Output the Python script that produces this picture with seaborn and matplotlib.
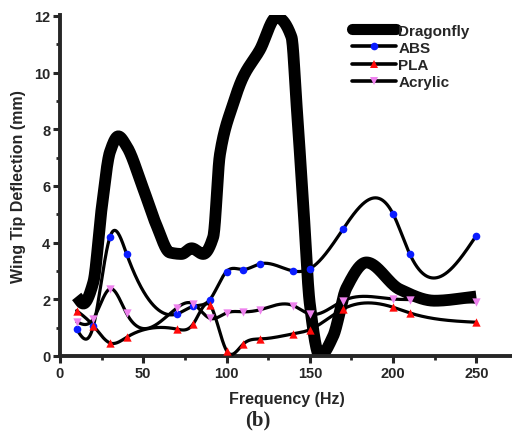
import numpy as np
import pandas as pd
import matplotlib
matplotlib.use("Agg")
import matplotlib.pyplot as plt
from matplotlib.lines import Line2D
from matplotlib.ticker import MultipleLocator
import seaborn as sns

# ---- data ----
freq = [10, 20, 30, 40, 70, 80, 90, 100, 110, 120, 140, 150, 170, 200, 210, 250]
abs_defl = [0.95, 1.05, 4.2, 3.6, 1.48, 1.75, 1.99, 2.98, 3.05, 3.25, 3.0, 3.08, 4.48, 5.01, 3.6, 4.25]
pla_defl = [1.6, 1.07, 0.46, 0.66, 0.95, 1.13, 1.8, 0.19, 0.42, 0.6, 0.78, 0.93, 1.66, 1.72, 1.52, 1.19]
acr_defl = [1.21, 1.31, 2.37, 1.5, 1.69, 1.84, 1.33, 1.52, 1.56, 1.63, 1.78, 1.48, 1.95, 2.01, 1.99, 1.9]

dragon_freq = [10, 14, 20, 25, 30, 35, 40, 50, 58, 66, 73, 79, 86, 92, 96, 104, 110, 120,
               130, 139, 142, 146, 150, 156, 164, 172, 184, 204, 225, 250]
dragon_defl = [2.1, 1.85, 2.6, 5.2, 7.2, 7.75, 7.4, 5.9, 4.6, 3.65, 3.6, 3.8, 3.6, 4.2, 7.1, 8.9, 9.85, 10.8,
               11.95, 11.25, 8.9, 5.4, 1.84, 0.0, 0.7, 2.4, 3.3, 2.35, 1.95, 2.1]

x_ticks = [0, 50, 100, 150, 200, 250]
y_ticks = [0, 2, 4, 6, 8, 10, 12]
series_names = ["Dragonfly", "ABS", "PLA", "Acrylic"]


def natural_spline(x, y, xs):
    x = np.asarray(x, float); y = np.asarray(y, float)
    n = len(x); h = np.diff(x)
    A = np.zeros((n, n)); b = np.zeros(n)
    A[0, 0] = 1; A[-1, -1] = 1
    for i in range(1, n - 1):
        A[i, i - 1] = h[i - 1]; A[i, i] = 2 * (h[i - 1] + h[i]); A[i, i + 1] = h[i]
        b[i] = 3 * ((y[i + 1] - y[i]) / h[i] - (y[i] - y[i - 1]) / h[i - 1])
    c = np.linalg.solve(A, b)
    idx = np.clip(np.searchsorted(x, xs) - 1, 0, n - 2)
    dx = xs - x[idx]
    bb = (y[idx + 1] - y[idx]) / h[idx] - h[idx] * (2 * c[idx] + c[idx + 1]) / 3
    d = (c[idx + 1] - c[idx]) / (3 * h[idx])
    return y[idx] + bb * dx + c[idx] * dx ** 2 + d * dx ** 3


def pchip(x, y, xs):
    x = np.asarray(x, float); y = np.asarray(y, float)
    n = len(x); h = np.diff(x); delta = np.diff(y) / h
    d = np.zeros(n)
    for k in range(1, n - 1):
        if delta[k - 1] * delta[k] > 0:
            w1 = 2 * h[k] + h[k - 1]; w2 = h[k] + 2 * h[k - 1]
            d[k] = (w1 + w2) / (w1 / delta[k - 1] + w2 / delta[k])
    d[0] = delta[0]; d[-1] = delta[-1]
    idx = np.clip(np.searchsorted(x, xs) - 1, 0, n - 2)
    t = (xs - x[idx]) / h[idx]
    h00 = 2 * t ** 3 - 3 * t ** 2 + 1; h10 = t ** 3 - 2 * t ** 2 + t
    h01 = -2 * t ** 3 + 3 * t ** 2; h11 = t ** 3 - t ** 2
    return h00 * y[idx] + h10 * h[idx] * d[idx] + h01 * y[idx + 1] + h11 * h[idx] * d[idx + 1]


sns.set_style("ticks")
plt.rcParams['font.family'] = ['Liberation Sans', 'DejaVu Sans']
plt.rcParams['font.weight'] = 'bold'

fig = plt.figure(figsize=(5.12, 4.35), dpi=100)
ax = fig.add_axes([60 / 512, 78 / 435, 453 / 512, 341 / 435])

xs = np.linspace(10, 250, 1200)
dfd = pd.DataFrame({"x": xs, "y": pchip(dragon_freq, dragon_defl, xs)})
sns.lineplot(data=dfd, x="x", y="y", ax=ax, color="black", lw=8.5, sort=False,
             estimator=None, solid_capstyle="butt", solid_joinstyle="round", zorder=2)

styles = {"ABS": ("#0a1cff", "o", abs_defl, 5.5),
          "PLA": ("#ff0a0a", "^", pla_defl, 6),
          "Acrylic": ("#ee82ee", "v", acr_defl, 6)}
for name in ["ABS", "PLA", "Acrylic"]:
    col, mk, vals, ms = styles[name]
    dfm = pd.DataFrame({"x": xs, "y": natural_spline(freq, vals, xs)})
    sns.lineplot(data=dfm, x="x", y="y", ax=ax, color="black", lw=2.3, sort=False,
                 estimator=None, zorder=3)
    dfp = pd.DataFrame({"x": freq, "y": vals})
    sns.scatterplot(data=dfp, x="x", y="y", ax=ax, color=col, marker=mk, s=ms ** 2,
                    linewidth=0, zorder=4)

ax.set_xlim(0, 272)
ax.set_ylim(0, 12.03)
ax.set_xticks(x_ticks)
ax.set_yticks(y_ticks)
ax.xaxis.set_minor_locator(MultipleLocator(25))
ax.yaxis.set_minor_locator(MultipleLocator(1))
sns.despine(ax=ax)
for sp in ["left", "bottom"]:
    ax.spines[sp].set_linewidth(2.8)
ax.tick_params(which="major", length=5, width=2.2, labelsize=10.5, pad=2)
ax.tick_params(which="minor", length=3, width=2)
for lab in ax.get_xticklabels() + ax.get_yticklabels():
    lab.set_fontweight("bold")
ax.set_xlabel("Frequency (Hz)", fontsize=11.5, fontweight="bold", labelpad=8)
ax.set_ylabel("Wing Tip Deflection (mm)", fontsize=11.5, fontweight="bold", labelpad=6)

handles = [Line2D([], [], color="black", lw=8, solid_capstyle="round")]
for name in ["ABS", "PLA", "Acrylic"]:
    col, mk, vals, ms = styles[name]
    handles.append(Line2D([], [], color="black", lw=2.6, marker=mk, markersize=ms,
                          markerfacecolor=col, markeredgewidth=0))
leg = fig.legend(handles, series_names, loc="upper left", bbox_to_anchor=(338 / 512, 1 - 11 / 435),
                 frameon=False, handlelength=2.9, handletextpad=0.15, labelspacing=0.2,
                 prop={"weight": "bold", "size": 11})

fig.text(258 / 512, 1 - 420 / 435, "(b)", ha="center", va="center", fontsize=15,
         fontweight="bold", family=["Liberation Serif", "DejaVu Serif"])

fig.savefig("out.png", dpi=100)
